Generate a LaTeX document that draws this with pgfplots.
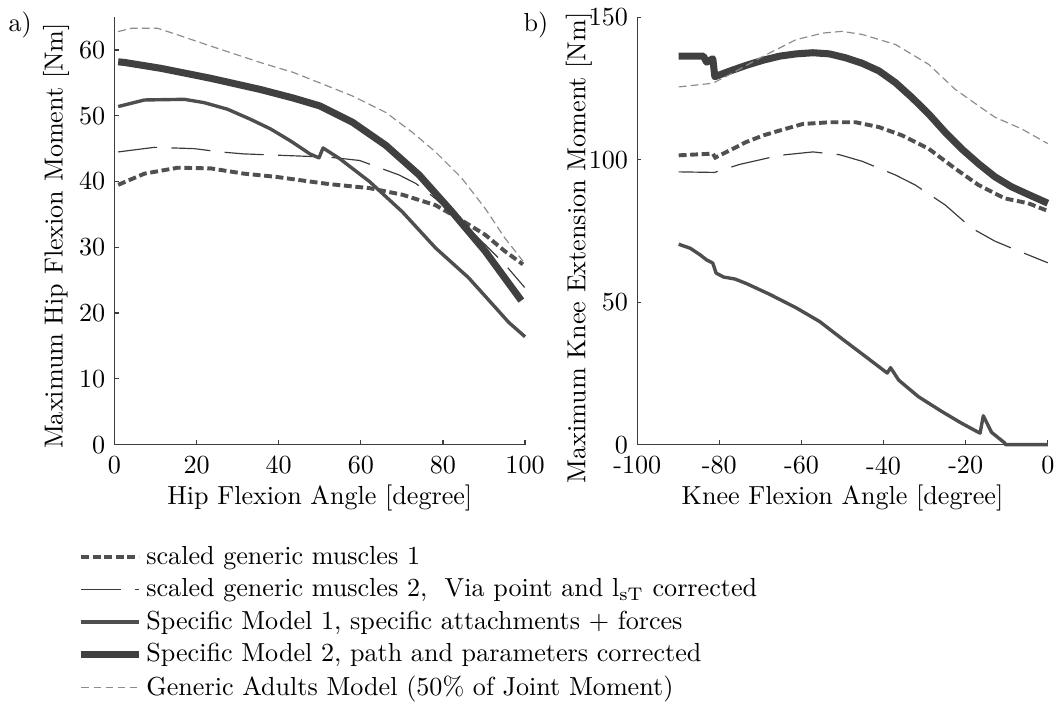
\documentclass[border=0pt]{standalone}
\usepackage{pgfplots}
\pgfplotsset{compat=1.18}
\definecolor{axGray}{HTML}{3C3C3C}
\definecolor{cDash}{HTML}{505050}
\definecolor{cThin}{HTML}{3A3A3A}
\definecolor{cSpecA}{HTML}{4E4E4E}
\definecolor{cSpecB}{HTML}{404040}
\definecolor{cAdult}{HTML}{8C8C8C}

\pgfplotsset{
  panel/.style={
    scale only axis, width=157.3pt, height=163.8pt,
    axis x line*=bottom, axis y line*=left,
    axis line style={-, draw=axGray, line width=0.45pt},
    tick style={axGray, line width=0.45pt},
    major tick length=1.6pt, tick align=inside,
    clip=false,
    xticklabel style={yshift=-1pt},
    xlabel style={at={(axis description cs:0.5,-0.125)}, anchor=center},
  },
  sgmA/.style={cDash, line width=1.5pt, dash pattern=on 3pt off 1.4pt},
  sgmB/.style={cThin, line width=0.45pt, dash pattern=on 15pt off 5.5pt},
  specA/.style={cSpecA, line width=1.3pt, line join=round},
  specB/.style={cSpecB, line width=2.7pt, line join=round},
  adult/.style={cAdult, line width=0.45pt, dash pattern=on 3pt off 1.6pt},
}

\begin{document}
\begin{tikzpicture}
% a) hip
\begin{axis}[panel,
  xmin=0, xmax=100, ymin=0, ymax=65,
  xtick={0,20,...,100}, ytick={0,10,...,60},
  xlabel={Hip Flexion Angle [degree]},
  ylabel={Maximum Hip Flexion Moment [Nm]},
  ylabel style={at={(axis description cs:-0.142,0.488)}, anchor=center},
  legend style={at={(axis description cs:-0.089,-0.229)}, anchor=north west,
                draw=none, fill=none, inner sep=0pt, outer sep=0pt,
                row sep=0.9pt, nodes={inner sep=1.5pt}},
  legend cell align=left,
  legend image code/.code={\draw[#1] (0pt,0pt) -- (22pt,0pt);},
]
\addplot[sgmA] coordinates {
  (0.9,39.5)(7.3,41.2)(15.4,42.1)(23.4,42)(31.5,41.2)(39.5,40.7)(47.6,40)
  (52.4,39.6)(62.1,39)(70.1,38)(78.2,36.4)(83.8,34.4)(90.3,31.9)(95.1,29.4)(99.5,27.4)};
\addlegendentry{scaled generic muscles 1}
\addplot[sgmB] coordinates {
  (0.9,44.5)(9.7,45.2)(19.4,45)(25.8,44.5)(31.5,44.2)(52.4,43.7)(59.7,43.2)
  (69.3,41)(73.4,39.7)(78,37.5)(86.2,32.9)(91.9,29.4)(95.1,27.4)(99.9,23.9)};
\addlegendentry{scaled generic muscles 2,~ Via point and l$_{\mathrm{sT}}$ corrected}
\addplot[specA] coordinates {
  (0.9,51.4)(7.3,52.4)(17,52.5)(21.8,52)(27.5,51)(33,49.5)(38,48)(42.8,46.2)
  (47.6,44.2)(49.8,43.6)(50.8,45.1)(54.8,43.5)(62.1,40)(70.1,35.4)(78.2,29.9)
  (86.2,25.4)(92.7,20.9)(96,18.6)(100,16.4)};
\addlegendentry{Specific Model 1, specific attachments + forces}
\addplot[specB] coordinates {
  (0.9,58.2)(2.5,58.1)(11.4,57.2)(23.4,55.7)(35.5,54)(43.5,52.7)(50,51.5)
  (58,49)(66.1,45.5)(74.2,41)(82.2,35.4)(90.3,29.4)(99.1,21.9)};
\addlegendentry{Specific Model 2, path and parameters corrected}
\addplot[adult] coordinates {
  (0.9,62.8)(4.1,63.3)(10.5,63.3)(15.4,62.3)(23.4,60.6)(35.5,58.1)(43.5,56.6)
  (50,55)(58,53)(66.1,50.5)(72.5,47.5)(78.2,44.5)(84.6,40.5)(90.3,35.9)
  (95.1,31.4)(99.5,27.9)};
\addlegendentry{Generic Adults Model (50\% of Joint Moment)}
\end{axis}
\node at (-36.1pt,160.7pt) {a)};
\node at (161.5pt,160.7pt) {b)};

% b) knee
\begin{axis}[panel, at={(200.3pt,0pt)},
  xmin=-100, xmax=0, ymin=0, ymax=150,
  xtick={-100,-80,...,0}, xticklabels={-100,-80,-60,-40,-20,0},
  ytick={0,50,100,150},
  xlabel={Knee Flexion Angle [degree]},
  ylabel={Maximum Knee Extension Moment [Nm]},
  ylabel style={at={(axis description cs:-0.142,0.46)}, anchor=center},
]
\addplot[sgmA] coordinates {
  (-89.9,101.5)(-81.6,102.1)(-81,100.7)(-77.4,103.3)(-73.4,106.2)(-69.3,108.5)
  (-65.3,110.2)(-59.7,112.5)(-53.2,113.1)(-46.8,113.1)(-41.1,111.4)(-35.5,108.5)
  (-29,103.8)(-22.6,96.9)(-16.9,91.1)(-10.5,86.4)(-4.8,84.7)(0,82)};
\addplot[sgmB] coordinates {
  (-89.9,95.7)(-81.2,95.5)(-75.1,98.3)(-65.3,101.5)(-57.2,102.7)(-50.7,101.7)
  (-45.2,99.4)(-37.1,94.6)(-32.3,91.1)(-25,84.1)(-18.6,76)(-12.9,71.4)
  (-8.1,68.5)(0,63.8)};
\addplot[specA] coordinates {
  (-89.9,70.3)(-87.1,68.9)(-84.7,66.6)(-83.1,64.8)(-81.6,63.7)(-80.8,60.2)
  (-79,58.8)(-76.2,58.1)(-73.4,56.5)(-67.7,52.7)(-61.3,48)(-55.6,43.2)
  (-50,37)(-44.4,30.9)(-39.1,25.1)(-38.3,27)(-36.3,22.6)(-31.5,16.8)
  (-25.8,11.6)(-21,7.5)(-16.5,4.0)(-15.7,10.1)(-13.7,4.3)(-10.5,0.6)
  (-10.3,0)(0,0)};
\addplot[specB] coordinates {
  (-89.9,136.3)(-83.9,136.3)(-83.1,134.2)(-81.6,135.4)(-81.1,129.1)(-77.4,131.1)
  (-73.4,133.1)(-69.3,134.9)(-65.3,136.3)(-61.3,137.1)(-57.2,137.5)(-53.2,137.1)
  (-49.2,135.7)(-45.2,133.8)(-41.1,131.1)(-37.1,127)(-33.1,121.8)(-29,116)
  (-25,109.6)(-21,103.8)(-16.9,98.6)(-12.9,94)(-8.9,90.5)(-4.8,87.8)(0,84.7)};
\addplot[adult] coordinates {
  (-89.9,125.5)(-81.6,126.8)(-77.4,129.9)(-69.3,136.3)(-61.3,142.1)(-54.8,144.4)
  (-50.1,145)(-45.2,143.9)(-37.1,140.4)(-29,133.4)(-22.6,124.7)(-16.9,118.9)
  (-12.9,114.9)(-6.4,110.8)(0,105.6)};
\end{axis}
\end{tikzpicture}
\end{document}
